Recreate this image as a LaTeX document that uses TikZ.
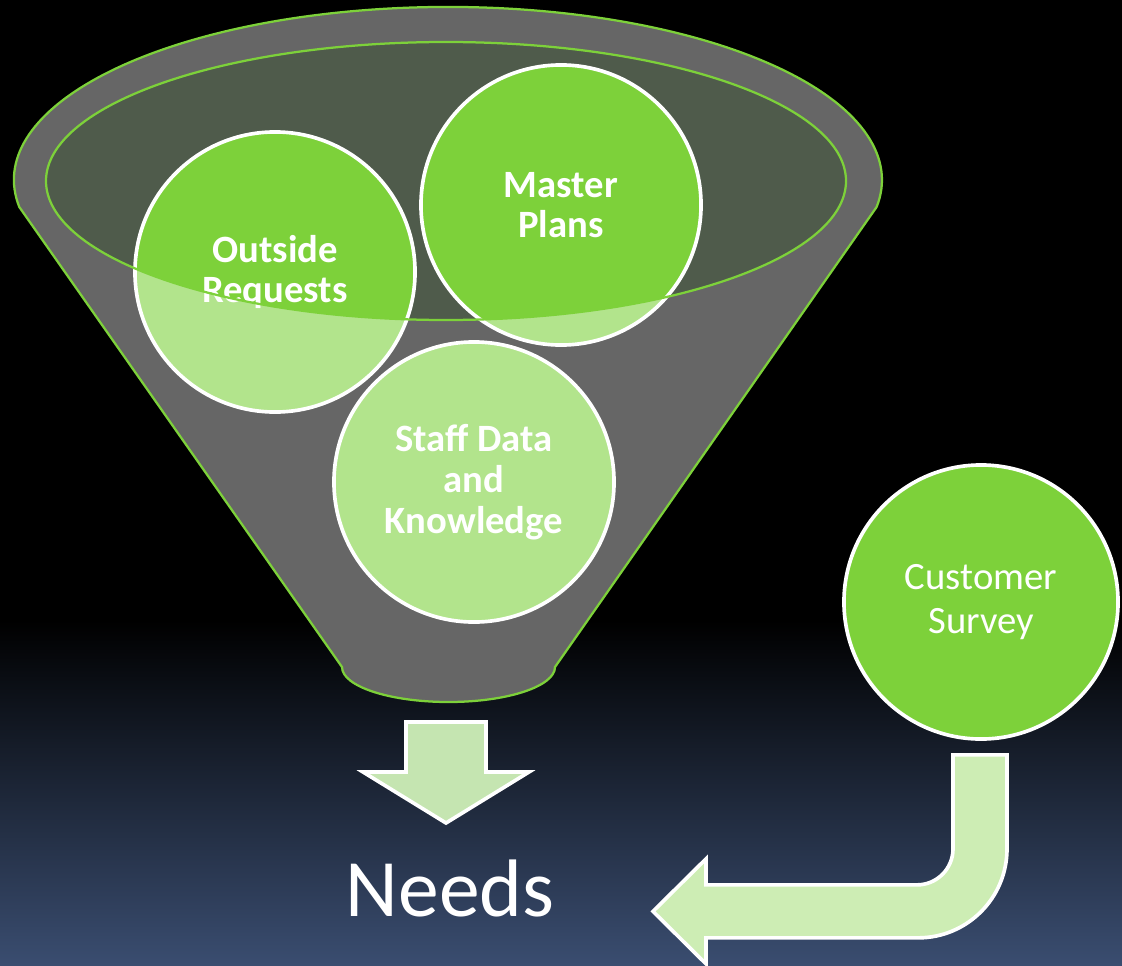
\documentclass[tikz,border=0pt]{standalone}
\usepackage{fontspec}
\setmainfont{Carlito}
\usepackage{tikz}
\definecolor{funnelgray}{HTML}{666666}
\definecolor{rimgreen}{HTML}{7DD13A}
\definecolor{mouthgreen}{HTML}{4F5B4B}
\definecolor{palegreen}{HTML}{B2E48C}
\definecolor{arrowgreen}{HTML}{C5E5B1}
\definecolor{bendgreen}{HTML}{CDEDB4}
\definecolor{nightblue}{HTML}{3A4D70}
\tikzset{
    tnode/.style = {align=center, inner sep=0pt, text centered, text=white},
    bubble_node/.style = {tnode, circle, draw=white, line width=2.6pt, minimum size=7cm, font=\bfseries\fontsize{27.5}{29}\selectfont},
    survey_node/.style = {tnode, circle, draw=white, fill=rimgreen, line width=2.6pt, minimum size=6.85cm, font=\fontsize{27.5}{31}\selectfont},
    needs_text/.style = {tnode, font=\fontsize{58}{60}\selectfont},
    block_arrow/.style = {draw=white, line width=2.6pt, line join=miter}
}

\begin{document}
\begin{tikzpicture}[x=0.025cm, y=-0.025cm]
    \useasboundingbox (0,0) rectangle (1122,965);
    % background
    \fill[black] (0,0) rectangle (1122,965);
    \shade[top color=black, bottom color=nightblue] (0,620) rectangle (1122,965);
    % funnel
    \draw[fill=funnelgray, draw=rimgreen, line width=1.6pt]
        (19.3,207) arc[start angle=171, end angle=369, x radius=434, y radius=173]
        -- (555,667) arc[start angle=0, end angle=180, x radius=106.5, y radius=35]
        -- cycle;
    \fill[mouthgreen] (446,181) ellipse[x radius=400, y radius=139];
    % bubbles
    \coordinate (c_outside) at (275,272);
    \coordinate (c_master) at (561,205);
    \coordinate (c_staff) at (474,482);
    \foreach \c in {c_outside, c_master, c_staff}
        \fill[palegreen] (\c) circle[radius=140];
    \begin{scope}
        \clip (446,181) ellipse[x radius=400, y radius=139];
        \foreach \c in {c_outside, c_master, c_staff}
            \fill[rimgreen] (\c) circle[radius=140];
    \end{scope}
    \node[bubble_node] (outside) at (c_outside) {Outside\\Requests};
    \node[bubble_node] (master) at (c_master) {Master\\Plans};
    \node[bubble_node] (staff) at (c_staff) {Staff Data\\and\\Knowledge};
    \draw[rimgreen, line width=1.6pt] (446,181) ellipse[x radius=400, y radius=139];
    \node[survey_node] (survey) at (981,602) {Customer\\Survey};
    \node[needs_text, anchor=base] (needs) at (450,916) {Needs};
    % arrows
    \draw[block_arrow, fill=arrowgreen] (446,722) -- ++(40,0) -- ++(0,50) -- ++(43,0)
        -- ++(-83,51) -- ++(-83,-51) -- ++(43,0) -- ++(0,-50) -- cycle;
    \draw[block_arrow, fill=bendgreen] ([xshift=-0.7cm, yshift=-0.35cm]survey.south)
        -- ++(54,0) -- ++(0,94) arc[start angle=0, end angle=90, radius=89]
        -- ++(-212,0) -- ++(0,26) -- ++(-53,-52.5) -- ++(53,-52.5) -- ++(0,26)
        -- ++(211,0) arc[start angle=90, end angle=0, radius=36] -- cycle;
\end{tikzpicture}
\end{document}
